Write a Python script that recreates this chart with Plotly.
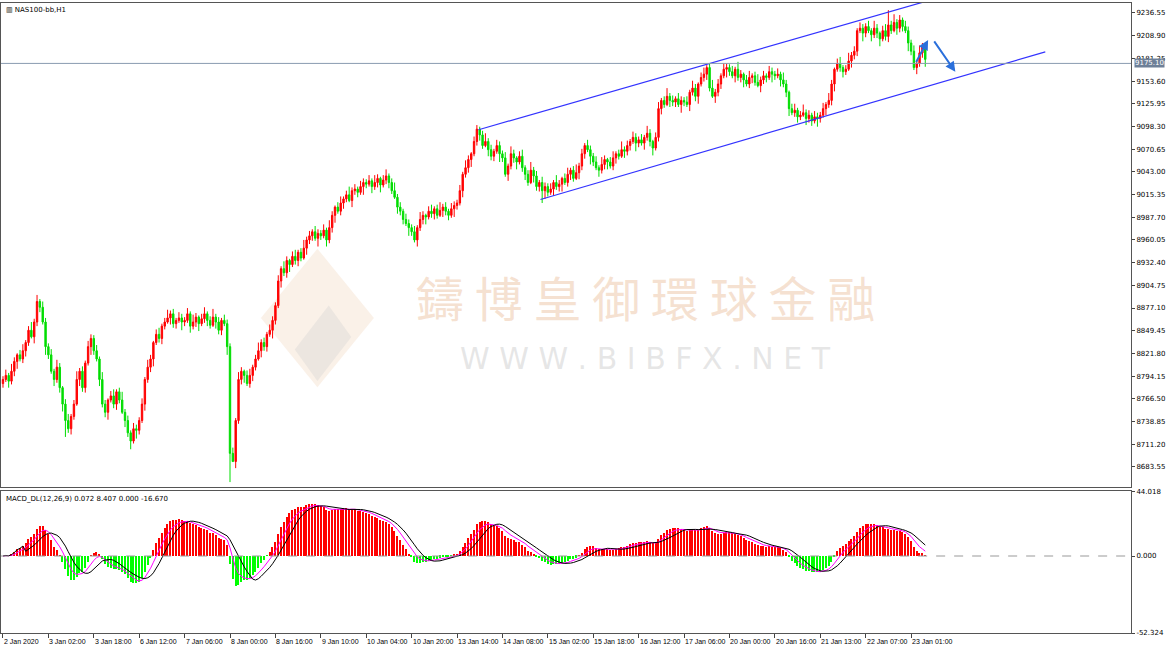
import plotly.graph_objects as go
import numpy as np

closes = [
 8790,8795,8788,8800,8812,8820,8815,8825,8835,8850,8842,8860,8885,8878,8860,8830,
 8820,8800,8790,8805,8780,8760,8740,8730,8745,8760,8790,8800,8780,8810,8830,8840,
 8825,8815,8790,8760,8750,8765,8770,8760,8775,8765,8750,8740,8725,8715,8730,8728,
 8740,8760,8790,8805,8815,8835,8845,8840,8855,8860,8865,8870,8858,8862,8865,8860,
 8862,8870,8855,8860,8866,8858,8864,8870,8862,8856,8866,8860,8850,8862,8858,8830,
 8700,8690,8740,8790,8800,8795,8785,8795,8805,8815,8825,8835,8830,8845,8850,8862,
 8880,8910,8925,8920,8935,8930,8940,8935,8945,8938,8950,8960,8965,8970,8962,8968,
 8965,8972,8960,8975,8990,9000,8995,9005,9010,9015,9008,9020,9022,9018,9025,9030,
 9028,9032,9025,9030,9035,9027,9033,9038,9030,9020,9012,9000,8995,8985,8980,8975,
 8970,8960,8975,8985,8990,8988,8995,8992,8998,8990,8996,9000,8995,8990,8998,9002,
 9005,9020,9040,9048,9058,9065,9080,9095,9088,9075,9080,9070,9062,9068,9075,9065,
 9060,9040,9050,9065,9060,9055,9062,9048,9040,9030,9045,9038,9025,9030,9020,9025,
 9018,9022,9030,9025,9028,9035,9030,9040,9045,9035,9042,9050,9065,9075,9070,9062,
 9055,9048,9045,9052,9058,9055,9050,9060,9065,9062,9070,9068,9075,9080,9085,9078,
 9082,9078,9085,9090,9080,9072,9085,9120,9130,9125,9135,9130,9128,9132,9125,9130,
 9128,9125,9140,9145,9135,9150,9158,9162,9170,9145,9135,9140,9150,9160,9168,9170,
 9165,9160,9168,9158,9162,9155,9150,9158,9160,9152,9148,9155,9160,9158,9165,9162,
 9160,9162,9155,9150,9140,9120,9115,9118,9110,9112,9115,9108,9112,9105,9110,9108,
 9112,9120,9125,9130,9150,9168,9175,9170,9165,9168,9178,9185,9190,9215,9218,9212,
 9220,9215,9210,9218,9212,9205,9215,9208,9222,9215,9225,9218,9228,9220,9215,9200,
 9190,9170,9175,9188,9195,9180,
]
wick_up = [4,7,3,9,5,2,6,8,3,5,10,4,6,3,7,5]
wick_dn = [5,3,8,4,6,9,3,5,7,4,2,8,5,6,3,10]
low_override = {80: 8665, 81: 8690, 190: 9005, 22: 8720, 45: 8705}
high_override = {12: 8893, 167: 9100, 312: 9240}

tick_labels = ["2 Jan 2020","3 Jan 02:00","3 Jan 18:00","6 Jan 12:00","7 Jan 06:00",
 "8 Jan 00:00","8 Jan 16:00","9 Jan 10:00","10 Jan 04:00","10 Jan 20:00","13 Jan 14:00",
 "14 Jan 08:00","15 Jan 02:00","15 Jan 18:00","16 Jan 12:00","17 Jan 06:00","20 Jan 00:00",
 "20 Jan 16:00","21 Jan 13:00","22 Jan 07:00","23 Jan 01:00"]
bars_per_label = 16
price_ticks = [9236.55,9208.90,9181.25,9153.60,9125.95,9098.30,9070.65,9043.00,9015.35,
 8987.70,8960.05,8932.40,8904.75,8877.10,8849.45,8821.80,8794.15,8766.50,8738.85,8711.20,8683.55]
current_price = 9175.10
upper_channel = ([167.6, 326.8], [9094.3, 9252.3])
lower_channel = ([189.4, 367.3], [9009.3, 9189.2])
arrow_pts = [(321.5, 9175), (326.0, 9203.7), (327.8, 9203.7), (335.6, 9164.8)]

n = len(closes)
x = list(range(n))
opens = [closes[0] - 5] + closes[:-1]
highs, lows = [], []
for i in range(n):
    h = max(opens[i], closes[i]) + wick_up[i % 16]
    l = min(opens[i], closes[i]) - wick_dn[i % 16]
    highs.append(high_override.get(i, h))
    lows.append(low_override.get(i, l))

c = np.array(closes, float)
def ema(a, p):
    k = 2 / (p + 1); out = np.empty_like(a); out[0] = a[0]
    for i in range(1, len(a)): out[i] = a[i] * k + out[i-1] * (1 - k)
    return out
macd = ema(c, 12) - ema(c, 26)
sig = np.convolve(macd, np.ones(9) / 9, mode="full")[:n]
sig[:8] = macd[:8]
sig2 = ema(macd, 5)

fig = go.Figure()
fig.add_trace(go.Candlestick(x=x, open=opens, high=highs, low=lows, close=closes,
    increasing=dict(line=dict(color="#ff0000", width=1), fillcolor="#ff0000"),
    decreasing=dict(line=dict(color="#00dd00", width=1), fillcolor="#00dd00"),
    whiskerwidth=0, xaxis="x", yaxis="y", showlegend=False))
fig.add_trace(go.Bar(x=x, y=macd, marker_color=["#ff0000" if v >= 0 else "#00ff00" for v in macd],
    marker_line_width=0, width=0.45, xaxis="x2", yaxis="y2", showlegend=False))
fig.add_trace(go.Scatter(x=x, y=sig2, mode="lines", line=dict(color="#ff00ff", width=1),
    xaxis="x2", yaxis="y2", showlegend=False))
fig.add_trace(go.Scatter(x=x, y=sig, mode="lines", line=dict(color="black", width=1),
    xaxis="x2", yaxis="y2", showlegend=False))
for xs, ys in (upper_channel, lower_channel):
    fig.add_trace(go.Scatter(x=xs, y=ys, mode="lines", line=dict(color="#3333ff", width=1.2),
        xaxis="x", yaxis="y", showlegend=False, hoverinfo="skip"))
fig.add_trace(go.Scatter(x=[-1, 398], y=[current_price]*2, mode="lines",
    line=dict(color="#8a9bb0", width=1), xaxis="x", yaxis="y", showlegend=False))
fig.add_trace(go.Scatter(x=[-1, 398], y=[0, 0], mode="lines",
    line=dict(color="#999", width=1, dash="dash"), xaxis="x2", yaxis="y2", showlegend=False))

for (x0, y0), (x1, y1) in [(arrow_pts[0], arrow_pts[1]), (arrow_pts[2], arrow_pts[3])]:
    fig.add_annotation(x=x1, y=y1, ax=x0, ay=y0, xref="x", yref="y", axref="x", ayref="y",
        showarrow=True, arrowhead=2, arrowsize=1, arrowwidth=2, arrowcolor="#2a6fdb", text="")

xr = [-0.7, 397.5]
tickvals = [i * bars_per_label for i in range(len(tick_labels))]
small = dict(family="DejaVu Sans", size=7, color="black")
xlab = dict(family="Liberation Sans", size=7, color="black")
fig.update_layout(
    width=1170, height=648, margin=dict(l=1, r=39, t=3, b=15, autoexpand=False),
    plot_bgcolor="white", paper_bgcolor="white", bargap=0,
    xaxis=dict(domain=[0, 1], range=xr, showticklabels=False, showgrid=False, zeroline=False,
        rangeslider=dict(visible=False), showline=True, mirror=True, linecolor="#555",
        anchor="y", automargin=False),
    yaxis=dict(domain=[0.232, 1], range=[8659.2, 9248.7], side="right", tickvals=price_ticks,
        ticktext=[f"{v:.2f}" for v in price_ticks], tickfont=small, ticks="outside", ticklen=3,
        showgrid=False, zeroline=False, showline=True, mirror=True, linecolor="#555",
        automargin=False),
    xaxis2=dict(domain=[0, 1], range=xr, tickvals=tickvals, showticklabels=False,
        ticks="outside", ticklen=4, showgrid=False, zeroline=False, showline=True,
        mirror=True, linecolor="#555", anchor="y2", automargin=False),
    yaxis2=dict(domain=[0, 0.225], range=[-52.324, 44.018], side="right",
        tickvals=[44.018, 0, -52.324], ticktext=["44.018", "0.000", "-52.324"], tickfont=small,
        ticks="outside", ticklen=3, showgrid=False, zeroline=False, showline=True, mirror=True,
        linecolor="#555", automargin=False),
    font=dict(family="DejaVu Sans"),
)
for tv, tl in zip(tickvals, tick_labels):
    fig.add_annotation(x=tv, y=0, xref="x2", yref="paper", text=tl, showarrow=False,
        xanchor="left", yanchor="top", yshift=-3, xshift=-1, font=xlab)
fig.add_annotation(x=1.0, y=current_price, xref="paper", yref="y", text="9175.10", showarrow=False,
    xanchor="left", bgcolor="#6e8098", font=dict(size=7, color="white"), borderpad=0, xshift=3)
fig.add_annotation(x=0.003, y=0.998, xref="paper", yref="paper", text="▥ NAS100-bb,H1",
    showarrow=False, xanchor="left", yanchor="top", font=dict(size=7, color="black"))
fig.add_annotation(x=0.003, y=0.222, xref="paper", yref="paper",
    text="MACD_DL(12,26,9) 0.072 8.407 0.000 -16.670",
    showarrow=False, xanchor="left", yanchor="top", font=dict(size=7, color="black"))
fig.add_annotation(x=0.57, y=0.535, xref="paper", yref="paper", text="鑄 博 皇 御 環 球 金 融",
    showarrow=False, font=dict(family="Noto Sans CJK TC", size=48, color="rgba(238,200,170,0.55)"))
fig.add_annotation(x=0.57, y=0.435, xref="paper", yref="paper", text="W W W . B I B F X . N E T",
    showarrow=False, font=dict(family="DejaVu Sans", size=30, color="rgba(200,200,200,0.45)"))
fig.add_shape(type="path", xref="paper", yref="paper",
    path="M 0.23 0.5 L 0.28 0.61 L 0.33 0.5 L 0.28 0.39 Z",
    fillcolor="rgba(240,215,190,0.35)", line=dict(width=0), layer="below")
fig.add_shape(type="path", xref="paper", yref="paper",
    path="M 0.26 0.45 L 0.29 0.52 L 0.31 0.47 L 0.28 0.40 Z",
    fillcolor="rgba(210,210,210,0.35)", line=dict(width=0), layer="below")
fig.add_annotation(x=560, y=8904, xref="x", yref="y", text="纳指1H图", showarrow=False,
    font=dict(family="Noto Sans CJK SC", size=16, color="#ff2020"))
fig.write_html("out.html", config={"displayModeBar": False},
    post_script="document.body.style.margin='0px';document.body.style.overflow='hidden';")
